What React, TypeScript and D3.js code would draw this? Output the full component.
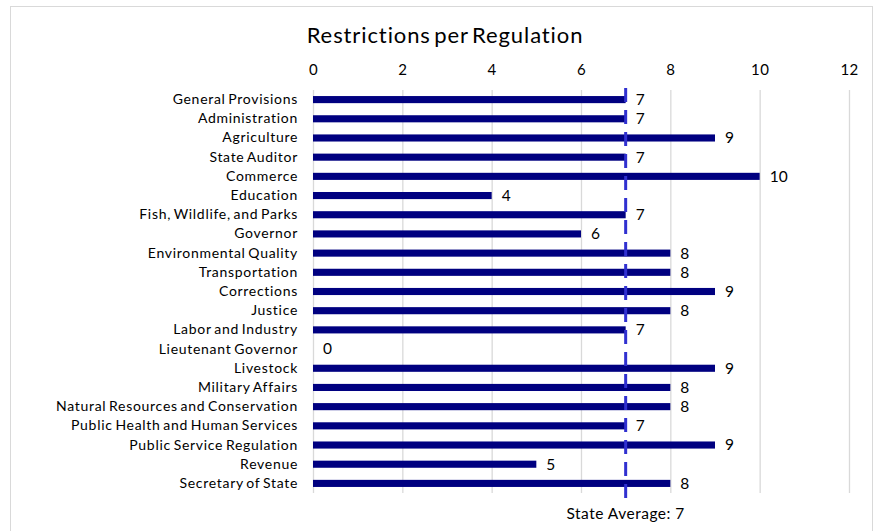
import { useEffect, useRef } from 'react'
import * as d3 from 'd3'

const categories = [
  'General Provisions',
  'Administration',
  'Agriculture',
  'State Auditor',
  'Commerce',
  'Education',
  'Fish, Wildlife, and Parks',
  'Governor',
  'Environmental Quality',
  'Transportation',
  'Corrections',
  'Justice',
  'Labor and Industry',
  'Lieutenant Governor',
  'Livestock',
  'Military Affairs',
  'Natural Resources and Conservation',
  'Public Health and Human Services',
  'Public Service Regulation',
  'Revenue',
  'Secretary of State',
]
const values = [7, 7, 9, 7, 10, 4, 7, 6, 8, 8, 9, 8, 7, 0, 9, 8, 8, 7, 9, 5, 8]
const xTicks = [0, 2, 4, 6, 8, 10, 12]
const stateAverage = 7
const title = 'Restrictions per Regulation'

export default function App() {
  const svgRef = useRef<SVGSVGElement>(null)

  useEffect(() => {
    const W = 876
    const H = 531
    const margin = { top: 90, right: 27, bottom: 38, left: 313 }
    const innerW = W - margin.left - margin.right
    const innerH = H - margin.top - margin.bottom
    const font = 'Lato, "Open Sans", sans-serif'

    const x = d3.scaleLinear().domain([0, 12]).range([0, innerW])
    const y = d3.scaleBand().domain(categories).range([0, innerH]).paddingInner(0.63).paddingOuter(0.315)

    const svg = d3.select(svgRef.current)
    svg.selectAll('*').remove()
    svg.attr('width', W).attr('height', H)

    svg.append('rect')
      .attr('x', 10.5).attr('y', 6.5)
      .attr('width', W - 14).attr('height', H)
      .attr('fill', '#fff')
      .attr('stroke', '#d9d9d9')

    svg.append('text')
      .attr('x', 445).attr('y', 43)
      .attr('text-anchor', 'middle')
      .attr('font-family', font)
      .attr('font-size', 22)
      .attr('letter-spacing', 0.9)
      .attr('word-spacing', -3)
      .attr('fill', '#000')
      .text(title)

    const g = svg.append('g').attr('transform', `translate(${margin.left},${margin.top})`)

    // grid
    g.append('g')
      .call(d3.axisTop(x).tickValues(xTicks).tickSize(-innerH).tickFormat(() => ''))
      .call((s) => s.select('.domain').remove())
      .call((s) => s.selectAll('.tick line').attr('stroke', '#d9d9d9').attr('stroke-width', 1.3))

    // tick labels
    g.append('g')
      .call(d3.axisTop(x).tickValues(xTicks).tickSize(0).tickPadding(15).tickFormat(d3.format('d')))
      .call((s) => s.select('.domain').remove())
      .call((s) => s.selectAll('text').attr('font-family', font).attr('font-size', 15).attr('letter-spacing', 0.4).attr('fill', '#000'))

    // category labels
    g.append('g')
      .call(d3.axisLeft(y).tickSize(0).tickPadding(15))
      .call((s) => s.select('.domain').remove())
      .call((s) => s.selectAll('text')
        .attr('font-family', font)
        .attr('font-size', 14)
        .attr('letter-spacing', 0.7)
        .attr('word-spacing', -1.5)
        .attr('fill', '#000'))

    // bars
    g.selectAll('.bar')
      .data(values)
      .join('rect')
      .attr('class', 'bar')
      .attr('x', 0)
      .attr('y', (_, i) => y(categories[i])!)
      .attr('width', (d) => x(d))
      .attr('height', y.bandwidth())
      .attr('fill', '#000080')

    // average line
    g.append('line')
      .attr('x1', x(stateAverage)).attr('x2', x(stateAverage))
      .attr('y1', -2).attr('y2', innerH + 8)
      .attr('stroke', '#3030d0')
      .attr('stroke-width', 3)
      .attr('stroke-dasharray', '14,8')

    // value labels
    g.selectAll('.val')
      .data(values)
      .join('text')
      .attr('class', 'val')
      .attr('x', (d) => x(d) + 10)
      .attr('y', (_, i) => y(categories[i])! + y.bandwidth() / 2)
      .attr('dy', '0.35em')
      .attr('font-family', font)
      .attr('font-size', 15.5)
      .attr('fill', '#000')
      .text((d) => d)

    g.append('text')
      .attr('x', x(stateAverage))
      .attr('y', innerH + 26)
      .attr('text-anchor', 'middle')
      .attr('font-family', font)
      .attr('font-size', 15.5)
      .attr('letter-spacing', 0.5)
      .attr('fill', '#000')
      .text(`State Average: ${stateAverage}`)
  }, [])

  return (
    <div style={{ position: 'absolute', left: 0, top: 0 }}>
      <svg ref={svgRef} style={{ display: 'block' }} />
    </div>
  )
}
